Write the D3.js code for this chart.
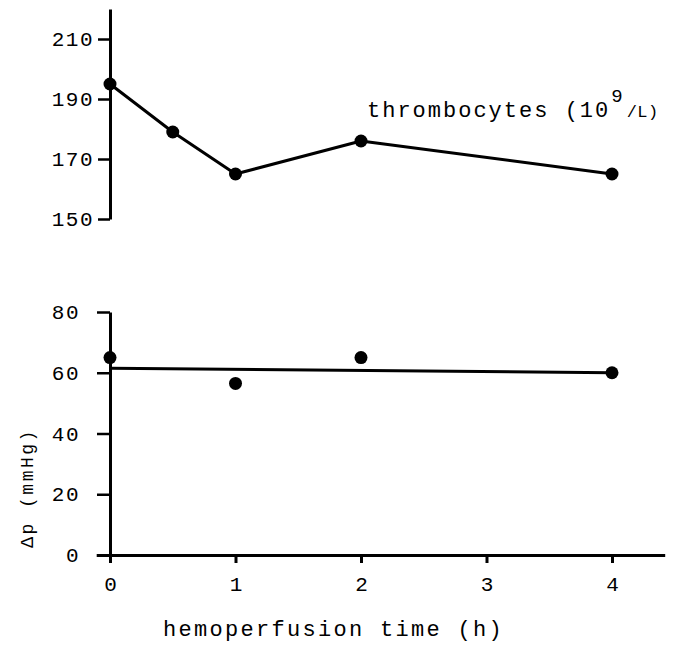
<!DOCTYPE html>
<html>
<head>
<meta charset="utf-8">
<script src="https://cdn.jsdelivr.net/npm/d3@7/dist/d3.min.js"></script>
<style>
  html, body { margin: 0; padding: 0; background: #fff; }
  svg { display: block; }
  text { font-family: "Liberation Mono", "DejaVu Sans Mono", monospace; fill: #000; }
</style>
</head>
<body>
<svg id="chart" width="684" height="648"></svg>
<script>
// ---- data ----
const topTimes = [0, 0.5, 1, 2, 4];
const thrombocytes = [195, 179, 165, 176, 165];
const dpTimes = [0, 1, 2, 4];
const deltaP = [65, 56.5, 65, 60];
const fitTimes = [0, 4];
const fitValues = [61.5, 60];
const xTicks = [0, 1, 2, 3, 4];
const topYTicks = [150, 170, 190, 210];
const bottomYTicks = [0, 20, 40, 60, 80];
const xTitle = "hemoperfusion time (h)";
const topLabel = "thrombocytes (10";
const topLabelSup = "9";
const topLabelEnd = "/L)";
const yTitleBottom = "Δp (mmHg)";

// ---- scales ----
const svg = d3.select("#chart");
const x = d3.scaleLinear().domain([-0.11, 4.42]).range([96.2, 664.7]);
const yTop = d3.scaleLinear().domain([150, 220]).range([219, 9]);
const yBot = d3.scaleLinear().domain([0, 80]).range([555, 312]);

const stroke = 3;

// ---- top panel axis ----
const topAxis = svg.append("g")
  .attr("transform", `translate(${x(0)},0)`)
  .call(d3.axisLeft(yTop).tickValues(topYTicks).tickSize(12).tickSizeOuter(0).tickPadding(4).tickFormat(d3.format("d")));
topAxis.select(".domain").attr("stroke-width", stroke).attr("stroke", "#000");
topAxis.selectAll(".tick line").attr("stroke-width", 2.5).attr("stroke", "#000");
topAxis.selectAll(".tick text").attr("font-size", 21).attr("letter-spacing", 1.5)
  .attr("font-family", "Liberation Mono").attr("fill", "#000");

// top line + points
const lineTop = d3.line().x((d, i) => x(topTimes[i])).y(d => yTop(d));
svg.append("path").datum(thrombocytes)
  .attr("d", lineTop).attr("fill", "none").attr("stroke", "#000").attr("stroke-width", stroke)
  .attr("stroke-linejoin", "round");
svg.append("g").selectAll("circle").data(thrombocytes).join("circle")
  .attr("cx", (d, i) => x(topTimes[i])).attr("cy", d => yTop(d)).attr("r", 6.5).attr("fill", "#000");

// top label
const tl = svg.append("text").attr("x", 367).attr("y", 117).attr("font-size", 22).attr("letter-spacing", 2);
tl.append("tspan").text(topLabel);
tl.append("tspan").text(topLabelSup).attr("font-size", 19).attr("dx", 1).attr("dy", -15);
tl.append("tspan").text(topLabelEnd).attr("font-size", 17).attr("letter-spacing", 0.5).attr("dx", 2).attr("dy", 15);

// ---- bottom panel ----
const botY = svg.append("g")
  .attr("transform", `translate(${x(0)},0)`)
  .call(d3.axisLeft(yBot).tickValues(bottomYTicks).tickSize(13).tickSizeOuter(0).tickPadding(17).tickFormat(d3.format("d")));
botY.select(".domain").attr("stroke-width", stroke).attr("stroke", "#000");
botY.selectAll(".tick line").attr("stroke-width", 2.5).attr("stroke", "#000");
botY.selectAll(".tick text").attr("font-size", 21).attr("letter-spacing", 1.5)
  .attr("font-family", "Liberation Mono").attr("fill", "#000");

const botX = svg.append("g")
  .attr("transform", `translate(0,${yBot(0)})`)
  .call(d3.axisBottom(x).tickValues(xTicks).tickSize(8).tickSizeOuter(0).tickPadding(13).tickFormat(d3.format("d")));
botX.select(".domain").attr("stroke-width", stroke).attr("stroke", "#000");
botX.selectAll(".tick line").attr("stroke-width", 3).attr("stroke", "#000");
botX.selectAll(".tick text").attr("font-size", 21)
  .attr("font-family", "Liberation Mono").attr("fill", "#000");

// regression line
const lineFit = d3.line().x((d, i) => x(fitTimes[i])).y(d => yBot(d));
svg.append("path").datum(fitValues)
  .attr("d", lineFit).attr("fill", "none").attr("stroke", "#000").attr("stroke-width", stroke);
svg.append("g").selectAll("circle").data(deltaP).join("circle")
  .attr("cx", (d, i) => x(dpTimes[i])).attr("cy", d => yBot(d)).attr("r", 6.5).attr("fill", "#000");

// y title bottom
svg.append("text")
  .attr("transform", "translate(33,488) rotate(-90)")
  .attr("text-anchor", "middle").attr("font-size", 18).attr("letter-spacing", 2.5)
  .text(yTitleBottom);

// x title
svg.append("text").attr("x", 163).attr("y", 636).attr("font-size", 22).attr("letter-spacing", 2.3)
  .text(xTitle);
</script>
</body>
</html>
